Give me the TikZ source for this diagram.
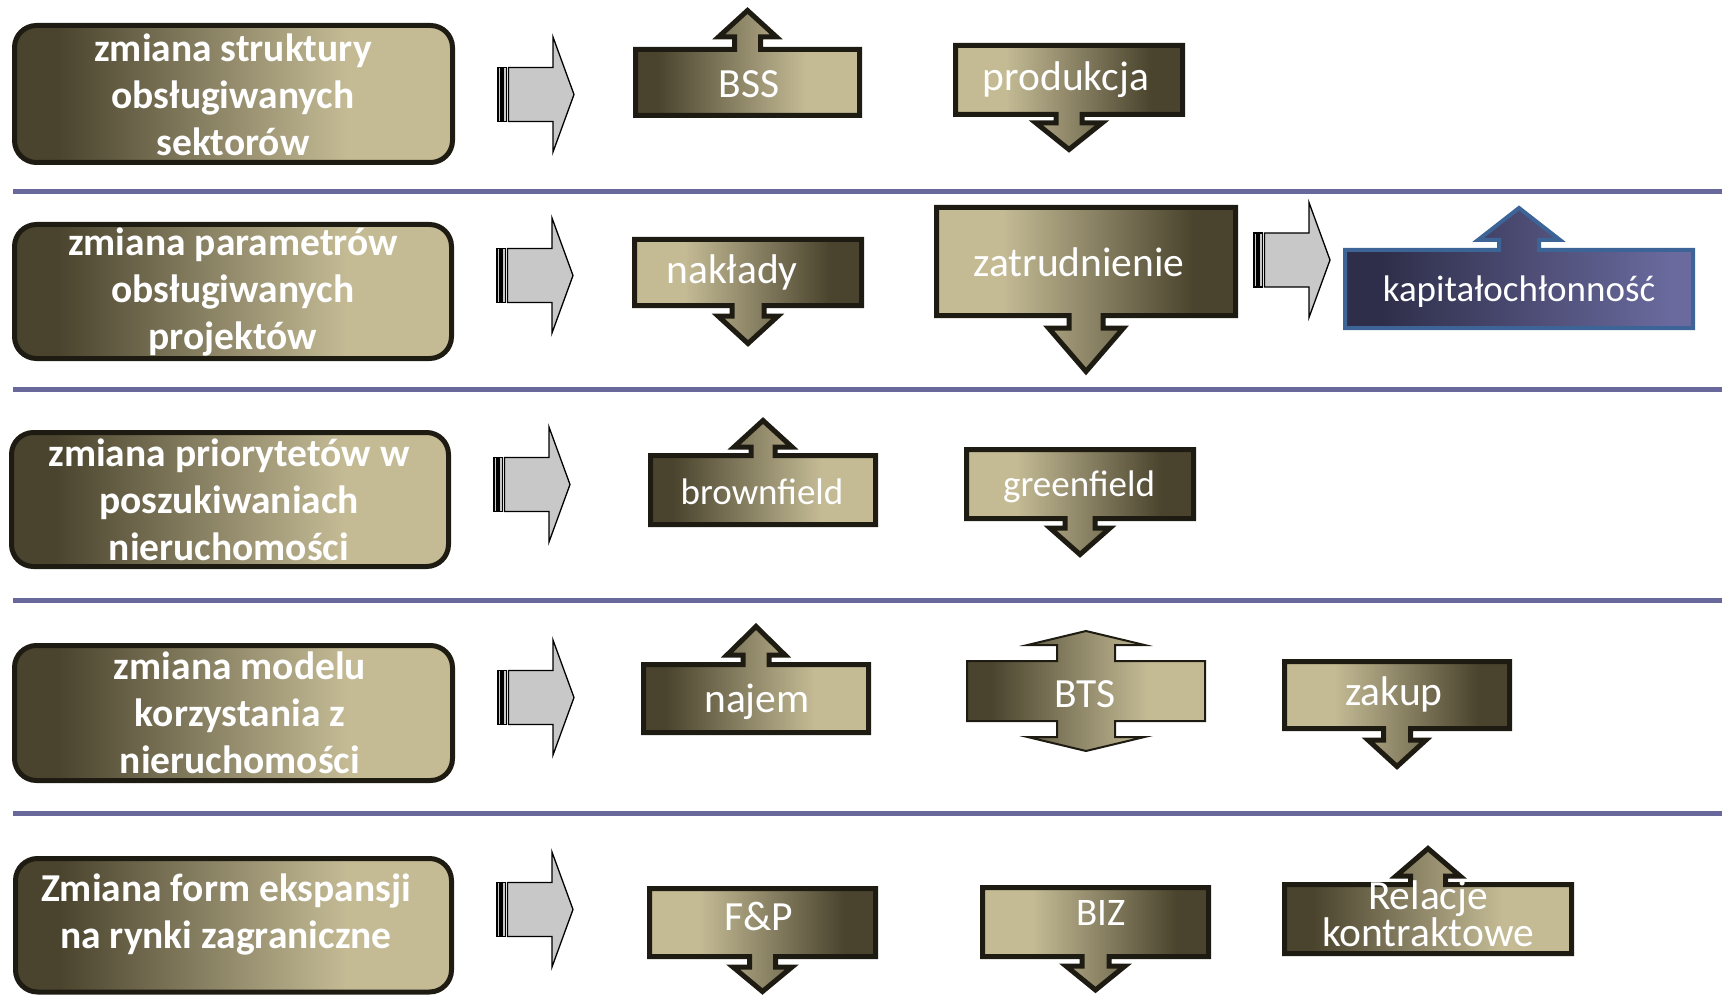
\documentclass[tikz,border=0pt]{standalone}
\usepackage{fontspec}
\setmainfont{Carlito}
\definecolor{olD}{RGB}{74,68,46}
\definecolor{olL}{RGB}{196,187,149}
\definecolor{bord}{RGB}{30,28,18}
\definecolor{nvD}{RGB}{46,46,74}
\definecolor{nvL}{RGB}{106,106,158}
\definecolor{nvB}{RGB}{60,100,150}
\definecolor{divC}{RGB}{104,104,154}
\definecolor{grayA}{RGB}{200,200,200}
\pgfdeclarehorizontalshading{olDL}{100bp}{color(0bp)=(olD); color(30bp)=(olD); color(63bp)=(olL); color(100bp)=(olL)}
\pgfdeclarehorizontalshading{olLD}{100bp}{color(0bp)=(olL); color(36bp)=(olL); color(68bp)=(olD); color(100bp)=(olD)}
\pgfdeclarehorizontalshading{nvDL}{100bp}{color(0bp)=(nvD); color(30bp)=(nvD); color(72bp)=(nvL); color(100bp)=(nvL)}
\tikzset{
  lbox/.style={draw=bord, line width=5pt, rounded corners=22pt, shading=olDL},
  callDL/.style={draw=bord, line width=5pt, line join=miter, shading=olDL},
  callLD/.style={draw=bord, line width=5pt, line join=miter, shading=olLD},
  callNV/.style={draw=nvB, line width=4pt, line join=miter, shading=nvDL},
  garrow/.style={draw=black, line width=1.3pt, fill=grayA, line join=miter},
  divider/.style={draw=divC, line width=5pt},
  ltext/.style={text=white, font=\bfseries\fontsize{39.5pt}{47pt}\selectfont, align=center, inner sep=0pt},
  ctext/.style={text=white, font=\fontsize{41.5pt}{45pt}\selectfont, inner sep=0pt},
  stext/.style={text=white, font=\fontsize{37pt}{42pt}\selectfont, inner sep=0pt}
}
% callout with up arrow: style, x1, y1(top), x2, y2(bottom), stem half, head half, head base y, tip y
\newcommand\calUp[9]{%
  \pgfmathsetmacro\myCx{(#2+#4)/2}%
  \path[#1] (#2,#5) -- (#2,#3) -- ({\myCx-#6},#3) -- ({\myCx-#6},#8) -- ({\myCx-#7},#8) -- (\myCx,#9)
    -- ({\myCx+#7},#8) -- ({\myCx+#6},#8) -- ({\myCx+#6},#3) -- (#4,#3) -- (#4,#5) -- cycle;}
\newcommand\calDn[9]{%
  \pgfmathsetmacro\myCx{(#2+#4)/2}%
  \path[#1] (#2,#3) -- (#4,#3) -- (#4,#5) -- ({\myCx+#6},#5) -- ({\myCx+#6},#8) -- ({\myCx+#7},#8) -- (\myCx,#9)
    -- ({\myCx-#7},#8) -- ({\myCx-#6},#8) -- ({\myCx-#6},#5) -- (#2,#5) -- cycle;}
% striped gray arrow: x0, y centre
\newcommand\grArr[2]{%
  \draw[garrow] (#1,{#2-27}) rectangle ({#1+3},{#2+27});
  \draw[garrow] ({#1+5},{#2-27}) rectangle ({#1+8.5},{#2+27});
  \draw[garrow] ({#1+10.5},{#2-27}) -- ({#1+55},{#2-27}) -- ({#1+55},{#2-57.5}) -- ({#1+76},#2)
    -- ({#1+55},{#2+57.5}) -- ({#1+55},{#2+27}) -- ({#1+10.5},{#2+27}) -- cycle;}
\begin{document}
\begin{tikzpicture}[x=1pt,y=-1pt]
\useasboundingbox (0,0) rectangle (1727,995);
% dividers
\foreach \yy in {192,389,600,813} \draw[divider] (13,\yy) -- (1722,\yy);
% left boxes
\path[lbox] (14.5,25.5) rectangle (452.5,162.5);
\path[lbox] (14.5,224.5) rectangle (451.5,358.5);
\path[lbox] (11.5,432.5) rectangle (448.5,566.5);
\path[lbox] (14.5,645.5) rectangle (452.5,780.5);
\path[lbox] (15.5,858.5) rectangle (451.5,992);
% gray arrows
\grArr{498}{94.5}
\grArr{497}{275.5}
\grArr{1254}{260}
\grArr{494}{484.5}
\grArr{498}{697.5}
\grArr{497}{909.5}
% callouts
\calUp{callDL}{635.5}{49.5}{859.5}{115.5}{13}{29}{37}{10.5}
\calDn{callLD}{955.5}{45.5}{1182.5}{114.5}{13}{33}{123}{149.5}
\calDn{callLD}{634.5}{239.5}{861.5}{305.5}{16}{30}{316}{343.5}
\calDn{callLD}{936.5}{207.5}{1235.5}{315.5}{17}{37.5}{328}{371.5}
\calUp{callNV}{1345}{250}{1693}{328}{20}{41}{240}{208}
\calUp{callDL}{650.5}{455.5}{875.5}{524.5}{12}{29}{447}{420.5}
\calDn{callLD}{966.5}{449.5}{1193.5}{518.5}{15}{30}{528}{554.5}
\calUp{callDL}{643.5}{664.5}{868.5}{732.5}{13}{29}{655}{626.5}
\path[draw=bord, line width=2pt, line join=miter, shading=olDL]
  (967,661) -- (1057,661) -- (1057,645) -- (1027.5,645) -- (1086,631) -- (1144.5,645) -- (1115,645)
  -- (1115,661) -- (1205,661) -- (1205,721) -- (1115,721) -- (1115,737) -- (1144.5,737) -- (1086,751)
  -- (1027.5,737) -- (1057,737) -- (1057,721) -- (967,721) -- cycle;
\calDn{callLD}{1284.5}{661.5}{1509.5}{728.5}{13.5}{29}{740}{766.5}
\calDn{callLD}{649.5}{888.5}{875.5}{956.5}{13}{29.5}{967}{991.5}
\calDn{callLD}{982.5}{887.5}{1208.5}{956.5}{13.5}{29.5}{966}{990}
\calUp{callDL}{1284.5}{884.5}{1571.5}{953.5}{17.5}{32}{876}{848.5}
% left texts
\node[ltext] (t1) at (233,95) {zmiana struktury\\obsługiwanych\\sektorów};
\node[ltext] (t2) at (233,292) {zmiana parametrów\\obsługiwanych\\projektów};
\node[ltext] (t3) at (229,500) {zmiana priorytetów w\\poszukiwaniach\\nieruchomości};
\node[ltext] (t4) at (240,713) {zmiana modelu\\korzystania z\\nieruchomości};
\node[ltext] (t5) at (226,914) {Zmiana form ekspansji\\na rynki zagraniczne};
% callout texts
\node[ctext] (bss) at (749,84) {BSS};
\node[ctext] (prod) at (1066,80) {produkcja};
\node[ctext] (nakl) at (732,272) {nakłady};
\node[ctext] (zatr) at (1079,262) {zatrudnienie};
\node[stext] (kap) at (1519,292) {kapitałochłonność};
\node[stext] (brown) at (762,492) {brownfield};
\node[stext] (green) at (1079,487) {greenfield};
\node[ctext] (najem) at (757,702) {najem};
\node[ctext] (bts) at (1085,694) {BTS};
\node[ctext] (zakup) at (1394,694) {zakup};
\node[ctext] (fp) at (759,916) {F\&P};
\node[ctext, font=\fontsize{39pt}{42pt}\selectfont] (biz) at (1101,913) {BIZ};
\node[ctext, align=center, font=\fontsize{41.5pt}{32pt}\selectfont] (rel) at (1428,914) {Relacje\\kontraktowe};
\end{tikzpicture}
\end{document}
